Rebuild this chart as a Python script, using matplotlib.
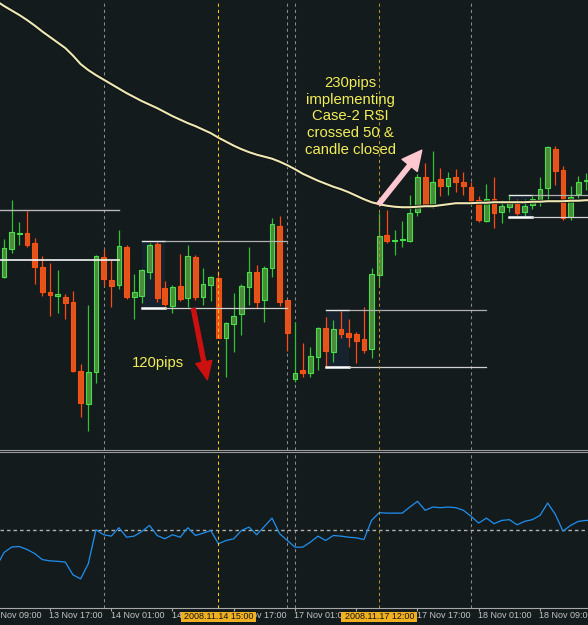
import matplotlib
matplotlib.use('Agg')
import matplotlib.pyplot as plt
from matplotlib.patches import Rectangle

plt.rcParams['font.family'] = ['Liberation Sans', 'DejaVu Sans']

BG = '#131b1d'

# ---------------- data ----------------
candle_idx = list(range(2, 79))
opens = [1.2723, 1.2751, 1.2766, 1.2767, 1.2757, 1.2733, 1.2708, 1.2704, 1.2703, 1.2698,
         1.2629, 1.2596, 1.2628, 1.2743, 1.2720, 1.2715, 1.2753, 1.2703, 1.2704, 1.2728,
         1.2756, 1.2712, 1.2694, 1.2714, 1.2702, 1.2743, 1.2703, 1.2715, 1.2722, 1.2662,
         1.2676, 1.2686, 1.2713, 1.2728, 1.2700, 1.2732, 1.2774, 1.2700, 1.2621, 1.2630,
         1.2627, 1.2643, 1.2672, 1.2648, 1.2671, 1.2667, 1.2666, 1.2661, 1.2651, 1.2725,
         1.2765, 1.2759, 1.2760, 1.2759, 1.2788, 1.2823, 1.2795, 1.2821, 1.2814, 1.2823,
         1.2818, 1.2813, 1.2800, 1.2779, 1.2801, 1.2788, 1.2793, 1.2796, 1.2788, 1.2795,
         1.2800, 1.2812, 1.2851, 1.2830, 1.2783, 1.2806, 1.2819]
highs = [1.2761, 1.2800, 1.2778, 1.2789, 1.2762, 1.2744, 1.2737, 1.2730, 1.2706, 1.2709,
         1.2636, 1.2695, 1.2745, 1.2751, 1.2740, 1.2770, 1.2755, 1.2726, 1.2731, 1.2757,
         1.2758, 1.2719, 1.2715, 1.2746, 1.2755, 1.2745, 1.2732, 1.2724, 1.2729, 1.2678,
         1.2707, 1.2716, 1.2753, 1.2735, 1.2734, 1.2782, 1.2784, 1.2700, 1.2678, 1.2657,
         1.2653, 1.2673, 1.2683, 1.2680, 1.2689, 1.2681, 1.2668, 1.2693, 1.2732, 1.2787,
         1.2790, 1.2770, 1.2779, 1.2805, 1.2826, 1.2837, 1.2849, 1.2832, 1.2828, 1.2831,
         1.2828, 1.2818, 1.2804, 1.2816, 1.2823, 1.2800, 1.2805, 1.2801, 1.2801, 1.2804,
         1.2823, 1.2854, 1.2854, 1.2834, 1.2814, 1.2824, 1.2827]
lows = [1.2722, 1.2747, 1.2755, 1.2753, 1.2716, 1.2704, 1.2684, 1.2687, 1.2681, 1.2628,
        1.2583, 1.2569, 1.2617, 1.2714, 1.2693, 1.2711, 1.2701, 1.2681, 1.2697, 1.2721,
        1.2698, 1.2694, 1.2687, 1.2699, 1.2693, 1.2700, 1.2695, 1.2699, 1.2662, 1.2623,
        1.2648, 1.2665, 1.2695, 1.2692, 1.2678, 1.2723, 1.2694, 1.2649, 1.2618, 1.2623,
        1.2623, 1.2630, 1.2633, 1.2638, 1.2662, 1.2653, 1.2637, 1.2647, 1.2642, 1.2714,
        1.2757, 1.2745, 1.2753, 1.2758, 1.2784, 1.2793, 1.2792, 1.2804, 1.2805, 1.2808,
        1.2805, 1.2798, 1.2778, 1.2778, 1.2772, 1.2777, 1.2788, 1.2785, 1.2784, 1.2791,
        1.2794, 1.2800, 1.2815, 1.2780, 1.2780, 1.2802, 1.2810]
closes = [1.2752, 1.2768, 1.2767, 1.2755, 1.2733, 1.2708, 1.2705, 1.2706, 1.2697, 1.2629,
          1.2597, 1.2628, 1.2744, 1.2721, 1.2714, 1.2754, 1.2703, 1.2708, 1.2730, 1.2755,
          1.2702, 1.2696, 1.2713, 1.2701, 1.2744, 1.2703, 1.2716, 1.2723, 1.2662, 1.2677,
          1.2684, 1.2714, 1.2728, 1.2698, 1.2732, 1.2776, 1.2698, 1.2667, 1.2627, 1.2627,
          1.2644, 1.2672, 1.2649, 1.2671, 1.2666, 1.2663, 1.2659, 1.2650, 1.2726, 1.2764,
          1.2759, 1.2760, 1.2761, 1.2787, 1.2823, 1.2795, 1.2818, 1.2814, 1.2822, 1.2818,
          1.2814, 1.2799, 1.2780, 1.2801, 1.2787, 1.2794, 1.2798, 1.2787, 1.2794, 1.2801,
          1.2811, 1.2853, 1.2829, 1.2782, 1.2803, 1.2818, 1.2820]

line_idx = list(range(1, 80))
ma = [1.2999, 1.2994, 1.29895, 1.2985, 1.2980, 1.29745, 1.29685, 1.2963, 1.29575, 1.2952,
      1.29445, 1.2936, 1.2930, 1.2925, 1.29205, 1.2916, 1.29115, 1.2907, 1.2903, 1.2899,
      1.28955, 1.2892, 1.2888, 1.2884, 1.28805, 1.2877, 1.2874, 1.28705, 1.2867, 1.28625,
      1.28585, 1.28545, 1.2851, 1.2848, 1.28455, 1.28435, 1.28415, 1.28385, 1.2835, 1.2831,
      1.28265, 1.2823, 1.28195, 1.28165, 1.28135, 1.2811, 1.2808, 1.28045, 1.2801, 1.2798,
      1.2796, 1.27945, 1.27935, 1.2793, 1.2793, 1.27935, 1.2794, 1.2794, 1.2795, 1.2796,
      1.2797, 1.2797, 1.2797, 1.27975, 1.27975, 1.2798, 1.2798, 1.2798, 1.2798, 1.2798,
      1.27985, 1.27985, 1.2799, 1.2799, 1.2799, 1.27995, 1.27995, 1.2800, 1.2800]
rsi = [26.3, 35.4, 38.9, 39.2, 37.3, 34.7, 30.8, 30.0, 29.7, 29.2,
       21.0, 18.4, 28.1, 50.0, 46.8, 45.9, 51.3, 45.2, 45.9, 48.9,
       52.8, 46.3, 44.2, 46.8, 45.2, 51.3, 46.3, 47.8, 49.5, 41.0,
       43.1, 44.2, 49.5, 51.7, 46.8, 52.1, 57.5, 47.4, 43.1, 38.8,
       38.8, 42.0, 45.9, 43.1, 46.3, 45.9, 45.2, 44.8, 43.7, 56.0,
       61.0, 60.7, 60.7, 60.7, 64.6, 68.3, 62.5, 64.6, 64.2, 64.6,
       64.2, 62.5, 58.6, 54.3, 57.5, 53.9, 56.0, 56.5, 53.2, 55.4,
       56.5, 59.2, 67.2, 59.9, 49.1, 52.8, 55.4, 56.0, 56.0]

tick_idx = [0, 8, 16, 24, 32, 40, 48, 56, 64, 72]
tick_labels = ['13 Nov 09:00', '13 Nov 17:00', '14 Nov 01:00', '14 Nov 09:00',
               '14 Nov 17:00', '17 Nov 01:00', '17 Nov 09:00', '17 Nov 17:00',
               '18 Nov 01:00', '18 Nov 09:00']
sep_idx = [15, 39, 40, 63]
marker_idx = [30, 51]
marker_labels = ['2008.11.14 15:00', '2008.11.17 12:00']

# range boxes
box_start = [20, 44, 68]
box_end = [23, 47, 71]
box_high = [1.2759, 1.2690, 1.2805]
box_low = [1.2692, 1.2633, 1.2783]
ext_end = [39, 65, 80]
prev_high, prev_low, prev_end = 1.2790, 1.2740, 17

XMIN, XMAX = 1.47, 78.27

# ---------------- figure ----------------
W, H = 588, 625
fig = plt.figure(figsize=(W / 100, H / 100), dpi=100, facecolor=BG)


def yf(py):
    return 1 - py / H


ax = fig.add_axes([0, yf(449.5), 1, 449.5 / H])
axr = fig.add_axes([0, yf(607.5), 1, (607.5 - 452) / H])
for a in (ax, axr):
    a.set_facecolor(BG)
    a.set_xlim(XMIN, XMAX)
    for s in a.spines.values():
        s.set_visible(False)
    a.set_yticks([])
ax.set_ylim(1.2551, 1.3000)
ax.set_xticks([])
ax.spines['bottom'].set_visible(True)
ax.spines['bottom'].set_color('#9a9a9a')
ax.spines['bottom'].set_linewidth(0.8)
axr.spines['top'].set_visible(True)
axr.spines['top'].set_color('#9a9a9a')
axr.spines['top'].set_linewidth(0.8)
axr.spines['bottom'].set_visible(True)
axr.spines['bottom'].set_color('#a8a8a8')
axr.spines['bottom'].set_linewidth(0.8)
axr.set_ylim(0, 100)
axr.set_xticks([t for t in tick_idx if XMIN <= t <= XMAX])
axr.tick_params(axis='x', direction='out', length=2.2, width=0.8, color='#a8a8a8',
                labelbottom=False)

# vertical separators
for a in (ax, axr):
    for s in sep_idx:
        a.axvline(s, color='#8a8a8a', lw=0.75, ls=(0, (3, 3)), zorder=1)
    a.axvline(marker_idx[0], color='#ffcc00', lw=0.75, ls=(0, (3, 3)), zorder=6)
    a.axvline(marker_idx[1], color='#b8902a', lw=0.75, ls=(0, (3, 3)), zorder=6)

# range boxes
for s, e, hi, lo, ee in zip(box_start, box_end, box_high, box_low, ext_end):
    ax.add_patch(Rectangle((s, lo), e - s, hi - lo, facecolor='#16222e',
                           edgecolor='none', zorder=1.2))
    ax.plot([s, e], [hi, hi], color='#e8e8e8', lw=1.0, zorder=2.8)
    ax.plot([s, e], [lo, lo], color='#ffffff', lw=1.8, zorder=2.8)
    ax.plot([e, ee], [hi, hi], color='#b0b0b0', lw=0.9, zorder=2.8)
    ax.plot([e, ee], [lo, lo], color='#d0d0d0', lw=0.9, zorder=2.8)
ax.plot([0, prev_end], [prev_high, prev_high], color='#b8b8b8', lw=1.0, zorder=2.8)
ax.plot([0, prev_end], [prev_low, prev_low], color='#f4f4f4', lw=1.2, zorder=2.8)

# candles
bull = [c >= o for o, c in zip(opens, closes)]
wick_cols = ['#34c034' if b else '#ff4a12' for b in bull]
ax.vlines(candle_idx, lows, highs, colors=wick_cols, lw=0.9, zorder=2)
bx_b = [i for i, b in zip(candle_idx, bull) if b]
bo_b = [min(o, c) for o, c, b in zip(opens, closes, bull) if b]
bh_b = [max(abs(c - o), 0.00008) for o, c, b in zip(opens, closes, bull) if b]
bx_r = [i for i, b in zip(candle_idx, bull) if not b]
bo_r = [min(o, c) for o, c, b in zip(opens, closes, bull) if not b]
bh_r = [max(abs(c - o), 0.00008) for o, c, b in zip(opens, closes, bull) if not b]
ax.bar(bx_b, bh_b, bottom=bo_b, width=0.62, facecolor='#4a8a3a', edgecolor='#48e048',
       linewidth=0.8, zorder=2.5)
ax.bar(bx_r, bh_r, bottom=bo_r, width=0.62, facecolor='#e0541e', edgecolor='#ff5010',
       linewidth=0.8, zorder=2.5)

# moving average
ax.plot(line_idx, ma, color='#0b0f0f', lw=2.6, zorder=3.4, solid_capstyle='round')
ax.plot(line_idx, ma, color='#efe8b4', lw=1.5, zorder=3.5)

# annotations
ax.text(18.67, 1.26375, '120pips', color='#f2ee58', fontsize=10.7, ha='left',
        va='center', zorder=7)
ax.annotate('', xy=(28.55, 1.26207), xytext=(26.72, 1.26917),
            arrowprops=dict(arrowstyle='simple,head_length=1.0,head_width=0.9,tail_width=0.22',
                            color='#cc1010', shrinkA=0, shrinkB=0, mutation_scale=13),
            zorder=7)
ax.text(47.2, 1.28838, '230pips\nimplementing\nCase-2 RSI\ncrossed 50 &\ncandle closed',
        color='#f2ee58', fontsize=10.7, ha='center', va='center', linespacing=1.24,
        zorder=7)
ax.annotate('', xy=(56.56, 1.2850), xytext=(50.93, 1.2796),
            arrowprops=dict(arrowstyle='simple,head_length=1.0,head_width=1.0,tail_width=0.22',
                            color='#ffc8d0', shrinkA=0, shrinkB=0, mutation_scale=14),
            zorder=7)

# RSI panel
axr.axhline(50, color='#b0b0b0', lw=1.0, ls=(0, (2.5, 2.2)), zorder=1.5)
axr.plot(line_idx, rsi, color='#2090f0', lw=0.9, zorder=3)

# time labels
tr = axr.get_xaxis_transform()
for t, lab in zip(tick_idx, tick_labels):
    axr.text(t - 0.08, -0.052, lab, transform=tr, color='#c4c4c4', fontsize=6.5,
             ha='left', va='center', clip_on=False, zorder=4)
box_w = 9.9
for m, lab in zip(marker_idx, marker_labels):
    axr.add_patch(Rectangle((m - box_w / 2, -0.0913), box_w, 0.0643, transform=tr,
                            facecolor='#f0b020', edgecolor='none', clip_on=False,
                            zorder=8))
    axr.text(m, -0.057, lab, transform=tr, color='#151515', fontsize=6.5,
             ha='center', va='center', clip_on=False, zorder=9)

fig.savefig('out.png', dpi=100, facecolor=BG)
